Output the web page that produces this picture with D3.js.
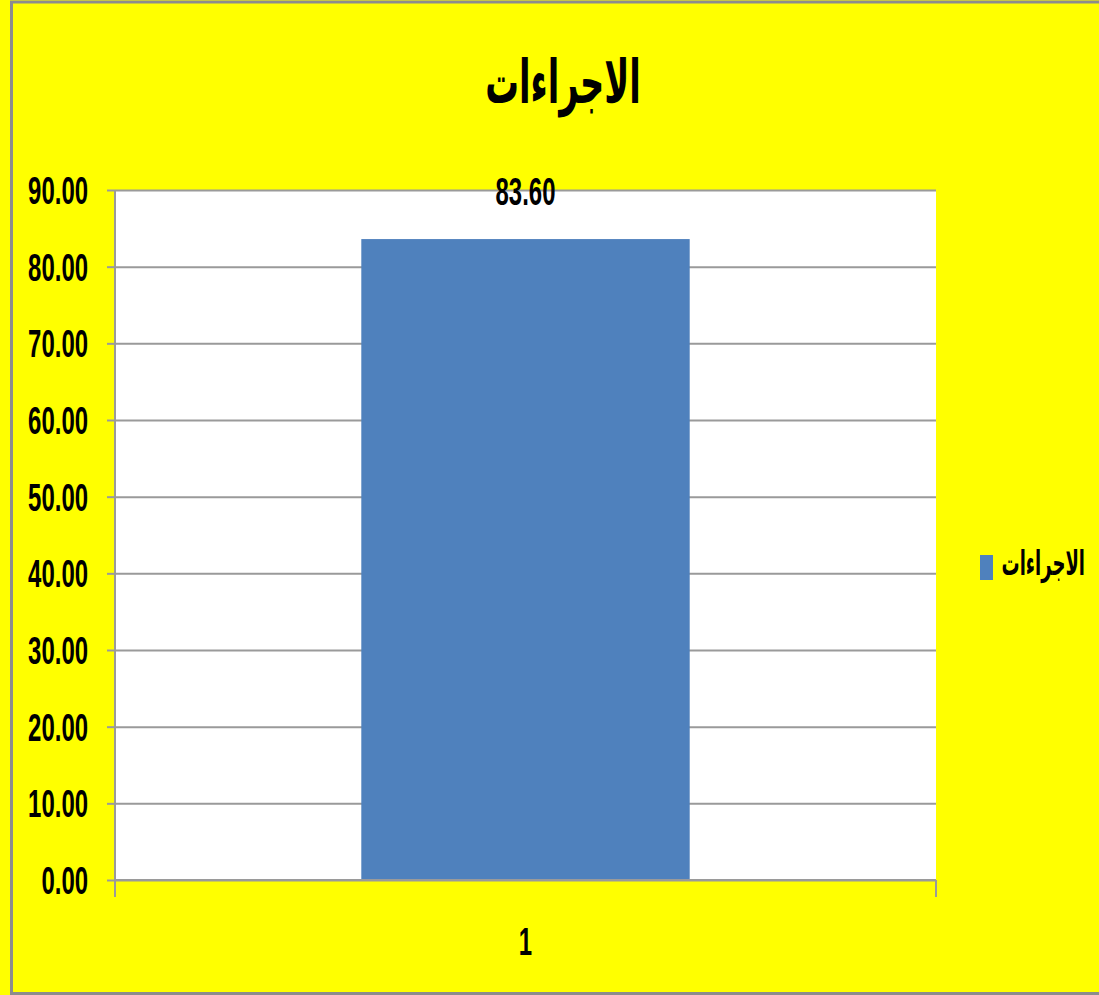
<!DOCTYPE html>
<html>
<head>
<meta charset="utf-8">
<script src="https://cdn.jsdelivr.net/npm/d3@7/dist/d3.min.js"></script>
<style>
  html, body { margin: 0; padding: 0; background: #ffff00; }
  svg { display: block; }
</style>
</head>
<body>
<svg id="chart" width="1099" height="995"></svg>
<script>
// Chart data
const categories = ["1"];
const seriesName = "الاجراءات";
const values = [83.60];
const yTicks = [0, 10, 20, 30, 40, 50, 60, 70, 80, 90];
const chartTitle = "الاجراءات";

const W = 1099, H = 995;
const svg = d3.select("#chart");
const numFont = "'Liberation Sans', Arial, sans-serif";
const arFont = "'DejaVu Sans', sans-serif";

// Background and frame
svg.append("rect").attr("width", W).attr("height", H).attr("fill", "#ffff00");
svg.append("rect").attr("x", 11.5).attr("y", 2).attr("width", W + 20).attr("height", H - 3.5)
  .attr("fill", "none").attr("stroke", "#8c8c8c").attr("stroke-width", 3);

const plot = { left: 115, right: 936, top: 190, bottom: 880 };

const x = d3.scaleBand().domain(categories).range([plot.left, plot.right]).paddingInner(0.6).paddingOuter(0.3);
const y = d3.scaleLinear().domain([0, 90]).range([plot.bottom, plot.top]);

// Plot area
svg.append("rect").attr("x", plot.left).attr("y", plot.top)
  .attr("width", plot.right - plot.left).attr("height", plot.bottom - plot.top).attr("fill", "#ffffff");

// Gridlines with outside tick marks
const yAxis = d3.axisLeft(y).tickValues(yTicks).tickSize(-(plot.right - plot.left)).tickFormat("");
const gy = svg.append("g").attr("transform", `translate(${plot.left},0)`).call(yAxis);
gy.select(".domain").remove();
gy.selectAll(".tick line").attr("stroke", "#9a9a9a").attr("stroke-width", 2);
gy.selectAll(".tick").append("line").attr("x1", -8).attr("x2", 0).attr("stroke", "#9a9a9a").attr("stroke-width", 2);

// Condensed bold numeric text
function numText(sel) {
  return sel.attr("font-family", numFont).attr("font-weight", "bold").attr("font-size", 38).attr("fill", "#000");
}

// Y tick labels
numText(svg.append("g").selectAll("text").data(yTicks).join("text")
  .attr("transform", d => `translate(88,${y(d) + 14}) scale(0.63,1)`)
  .attr("text-anchor", "end"))
  .text(d => d3.format(".2f")(d));

// Bars
svg.append("g").selectAll("rect").data(values).join("rect")
  .attr("x", (d, i) => x(categories[i]))
  .attr("y", d => y(d))
  .attr("width", x.bandwidth())
  .attr("height", d => y(0) - y(d))
  .attr("fill", "#4f81bd");

// Axis lines
svg.append("line").attr("x1", plot.left).attr("x2", plot.left).attr("y1", plot.top).attr("y2", 897)
  .attr("stroke", "#9a9a9a").attr("stroke-width", 2);
svg.append("line").attr("x1", plot.left).attr("x2", plot.right).attr("y1", plot.bottom).attr("y2", plot.bottom)
  .attr("stroke", "#9a9a9a").attr("stroke-width", 2);
svg.append("line").attr("x1", plot.right).attr("x2", plot.right).attr("y1", plot.bottom).attr("y2", 897)
  .attr("stroke", "#9a9a9a").attr("stroke-width", 2);

// Value labels
numText(svg.append("g").selectAll("text").data(values).join("text")
  .attr("transform", (d, i) => `translate(${x(categories[i]) + x.bandwidth() / 2},${y(d) - 34}) scale(0.63,1)`)
  .attr("text-anchor", "middle"))
  .text(d => d3.format(".2f")(d));

// Category labels
numText(svg.append("g").selectAll("text").data(categories).join("text")
  .attr("transform", d => `translate(${x(d) + x.bandwidth() / 2},955) scale(0.63,1)`)
  .attr("text-anchor", "middle"))
  .text(d => d);

// Title
svg.append("text")
  .attr("transform", `translate(563,103) scale(0.56,1)`)
  .attr("text-anchor", "middle")
  .attr("font-family", arFont).attr("font-weight", "bold").attr("font-size", 60)
  .attr("fill", "#000").text(chartTitle);

// Legend
const lg = svg.append("g").attr("transform", "translate(980,555)");
lg.append("rect").attr("width", 13).attr("height", 25).attr("fill", "#4f81bd");
lg.append("text")
  .attr("transform", "translate(105,20) scale(0.53,1)")
  .attr("font-family", arFont).attr("font-weight", "bold").attr("font-size", 34)
  .attr("text-anchor", "end")
  .attr("fill", "#000").text(seriesName);
</script>
</body>
</html>
